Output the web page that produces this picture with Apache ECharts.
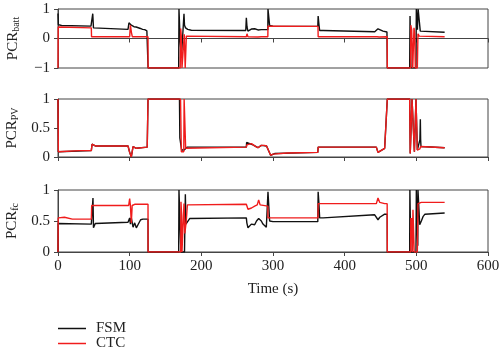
<!DOCTYPE html>
<html>
<head>
<meta charset="utf-8">
<script src="https://cdn.jsdelivr.net/npm/echarts@6/dist/echarts.min.js"></script>
<style>
  html, body { margin: 0; padding: 0; background: #fff; }
  #main { width: 500px; height: 354px; }
</style>
</head>
<body>
<div id="main"></div>
<script>
// [time (s), PCR] pairs
var battFSM = [[0,0.85],[0.5,0.47],[5,0.44],[46,0.42],[47.5,0.42],[48.5,0.84],[49.5,0.36],[51,0.33],[97.7,0.31],[99,0.53],[101,0.48],[102.3,0.45],[104,0.5],[106,0.4],[109,0.39],[111.6,0.38],[115,0.34],[118,0.31],[121,0.3],[124,0.26],[125.6,0.26],[125.7,-1],[168.4,-1],[168.8,1],[169.8,1],[170.5,-0.1],[172,-0.55],[173,-0.32],[174,0.1],[175.8,0.84],[176.5,0.45],[178,0.36],[181,0.31],[186,0.28],[262,0.27],[262.8,0.7],[263.7,0.4],[265,0.25],[267.4,0.3],[269.8,0.32],[272,0.28],[274.4,0.33],[277,0.3],[279,0.29],[281.4,0.33],[283.7,0.3],[292.8,0.3],[293,1],[294,1],[295.3,0.44],[300,0.42],[362.5,0.41],[363,0.76],[364,0.5],[365.1,0.27],[370,0.27],[442,0.23],[444,0.26],[446.5,0.33],[449,0.3],[453.5,0.25],[459,0.22],[459.5,-1],[490.7,-1],[491.2,0.76],[492,0.7],[492.5,-1],[499.5,-1],[500,1],[501,1],[501.5,0.3],[502.5,1],[504.5,1],[505.5,0.25],[508,0.22],[539.5,0.21]];
var battCTC = [[0,-1],[0.3,0.39],[3,0.37],[46.5,0.36],[46.8,0.06],[100,0.06],[101,0.45],[102.5,0.2],[103.7,0.06],[125.6,0.06],[125.7,-1],[170.5,-1],[171.2,0.34],[172,0.1],[173,-1],[175.5,-1],[176.2,0.14],[177.5,-1],[178.5,-1],[179.1,0.08],[180.5,0.06],[262.8,0.06],[263.7,0.16],[265,0.06],[279,0.05],[281.4,0.02],[283.7,0.06],[292.8,0.06],[293,0.42],[362.8,0.41],[363,0.06],[445,0.06],[446.5,0.1],[448,0.05],[459.3,0.06],[459.5,-1],[492,-1],[492.3,0.45],[493.5,0.3],[495,-1],[496.5,-1],[496.7,0.36],[497.7,0.2],[498.6,-1],[501.4,-1],[502.3,0.16],[504,0.08],[505,0.06],[539.5,0.06]];

var pvFSM = [[0,1],[0.5,0.09],[46.5,0.11],[47.5,0.22],[52,0.19],[97.7,0.19],[100,0.08],[102.3,0],[103.5,0],[104.7,0.18],[109.3,0.15],[124.5,0.17],[125.6,1],[169.5,1],[170,0.33],[171.5,0.3],[172.5,0.12],[176,0.12],[178,0.15],[180,0.17],[262.8,0.17],[263.2,0.25],[265.1,0.24],[272,0.21],[279,0.16],[283.7,0.2],[291,0.19],[293,0.17],[296.7,0.03],[302.3,0.06],[362.5,0.08],[363,0.17],[444.2,0.17],[446.5,0.08],[455.8,0.15],[458.5,0.16],[459.5,1],[490.7,1],[491.5,0.06],[493.5,0.06],[494,1],[496.5,1],[497.3,0.09],[499.5,1],[500.5,1],[501.4,0.12],[505,0.3],[505.6,0.65],[506,0.3],[506.5,0.18],[508,0.16],[539.5,0.16]];
var pvCTC = [[0,1],[0.5,0.09],[3,0.1],[30,0.11],[46.5,0.11],[47.5,0.22],[49,0.2],[52,0.19],[97.7,0.19],[100,0.08],[102.3,0],[103.5,0],[104.7,0.18],[107,0.19],[109.3,0.15],[112,0.16],[124.5,0.17],[125.6,1],[171,1],[172.1,0.09],[173,0.1],[175.5,0.09],[176,1],[177.5,1],[178.1,0.15],[180,0.17],[262.8,0.17],[263.5,0.21],[265.1,0.24],[270,0.23],[272,0.21],[276,0.18],[279,0.16],[283.7,0.2],[288,0.2],[291,0.19],[293,0.17],[296.7,0.03],[300,0.05],[302.3,0.06],[320,0.07],[362.5,0.08],[363,0.17],[365,0.17],[444.2,0.17],[446.5,0.08],[449,0.09],[455.8,0.15],[458.5,0.16],[459.5,1],[490.7,1],[491.5,0.06],[493.5,0.06],[494,1],[496.5,1],[497.3,0.09],[498.5,0.1],[499.5,1],[500.5,1],[501.4,0.12],[505,0.14],[506,0.18],[508,0.16],[539.5,0.16]];

var fcFSM = [[0,0],[0.3,0.46],[3,0.44],[46.5,0.45],[48,0.46],[48.8,0.87],[49.5,0.39],[50.5,0.4],[52,0.46],[97.7,0.48],[99,0.48],[100,0.55],[101,0.45],[102.3,0.55],[104.7,0.4],[107,0.47],[109.3,0.39],[111.6,0.44],[115.3,0.52],[118.6,0.53],[125.6,0.53],[125.7,0],[168.4,0],[168.8,1],[171,1],[171.5,0],[176.5,0],[177.7,0.93],[178.5,0.45],[180.5,0.42],[183.7,0.54],[186,0.55],[262.8,0.55],[263.5,0.47],[265.1,0.39],[267.4,0.4],[269.8,0.45],[272,0.42],[274.4,0.44],[277,0.5],[280,0.54],[283.7,0.5],[286,0.45],[290.7,0.4],[292.6,0.42],[293,0.97],[293.8,0.95],[295.3,0.5],[300,0.49],[362.5,0.49],[363,0.97],[364,0.8],[365.1,0.55],[370,0.55],[441.9,0.6],[444.2,0.58],[446.5,0.52],[449,0.56],[455.8,0.61],[459.3,0.61],[459.5,0],[490.7,0],[491,1],[492,1],[492.3,0],[499.5,0],[500,1],[501.4,1],[502,0.1],[502.3,1],[504,1],[504.7,0.44],[507,0.5],[509.3,0.57],[512,0.61],[539.5,0.63]];
var fcCTC = [[0,0],[0.3,0.55],[9,0.56],[20,0.53],[46.5,0.53],[47,0.75],[98.6,0.75],[100,0.86],[101,0.75],[102.3,0.47],[103.5,0.75],[104.7,0.76],[107,0.77],[125.6,0.77],[125.7,0],[171.2,0],[171.6,0.81],[172.5,0.6],[173,0],[175.3,0],[175.8,0.78],[177,0.3],[178.1,0.3],[179,0.5],[180.5,0.76],[182,0.77],[262.8,0.77],[265.1,0.69],[270,0.71],[274.4,0.74],[278,0.76],[280,0.84],[282,0.76],[283.7,0.75],[292.8,0.74],[293,0.55],[362.8,0.55],[363,0.78],[444.2,0.78],[446.5,0.87],[449,0.8],[455.8,0.78],[459.3,0.78],[459.5,0],[492,0],[492.3,0.55],[493,0.3],[493.5,0.55],[494.5,0],[495.3,0.68],[497,0],[501.4,0],[502.3,0.78],[503.5,0.78],[505,0.8],[507,0.8],[539.5,0.8]];

var seriesNames = ['FSM', 'CTC'];
var seriesColors = ['#111111', '#f01c1c'];
var panelNames = [
    '{m|PCR}{s|batt}',
    '{m|PCR}{s|PV}',
    '{m|PCR}{s|fc}'
];

var FONT = "'Liberation Serif', 'DejaVu Serif', serif";
var AXIS_COLOR = '#444';

var myChart = echarts.init(document.getElementById('main'));

var grids = [
    { left: 58, width: 430, top: 9, height: 59 },
    { left: 58, width: 430, top: 99, height: 58 },
    { left: 58, width: 430, top: 190, height: 62 }
];
grids.forEach(function (g) {
    g.show = true;
    g.borderColor = AXIS_COLOR;
    g.borderWidth = 1;
    g.backgroundColor = 'transparent';
    g.containLabel = false;
    g.outerBoundsMode = 'none';
});

function xAxisFor(i) {
    var last = i === 2;
    return {
        type: 'value',
        gridIndex: i,
        min: 0,
        max: 600,
        interval: 100,
        name: last ? 'Time (s)' : '',
        nameLocation: 'middle',
        nameGap: 30,
        nameTextStyle: { fontFamily: FONT, fontSize: 15, color: '#222' },
        axisLine: { show: true, lineStyle: { color: AXIS_COLOR, width: 1 } },
        axisTick: { show: true, length: 4, lineStyle: { color: AXIS_COLOR } },
        axisLabel: { show: last, margin: 7, fontFamily: FONT, fontSize: 15, color: '#222' },
        splitLine: { show: false }
    };
}

function yAxisFor(i, min, max, interval) {
    return {
        type: 'value',
        gridIndex: i,
        min: min,
        max: max,
        interval: interval,
        name: panelNames[i],
        nameLocation: 'middle',
        nameGap: 36,
        nameRotate: 90,
        nameTextStyle: {
            fontFamily: FONT,
            color: '#222',
            rich: {
                m: { fontFamily: FONT, fontSize: 15, color: '#222', lineHeight: 18 },
                s: { fontFamily: FONT, fontSize: 10, color: '#222', lineHeight: 18, padding: [7, 0, 0, 0] }
            }
        },
        axisLine: { show: true, lineStyle: { color: AXIS_COLOR, width: 1 } },
        axisTick: { show: true, length: 4, lineStyle: { color: AXIS_COLOR } },
        axisLabel: {
            margin: 8,
            fontFamily: FONT,
            fontSize: 15,
            color: '#222',
            formatter: function (v) { return String(v).replace('-', '\u2212'); }
        },
        splitLine: { show: false }
    };
}

function lineSeries(name, axisIndex, data) {
    var c = seriesColors[seriesNames.indexOf(name)];
    return {
        name: name,
        type: 'line',
        xAxisIndex: axisIndex,
        yAxisIndex: axisIndex,
        data: data,
        symbol: 'none',
        showSymbol: false,
        animation: false,
        clip: true,
        lineStyle: { color: c, width: 1.4 },
        itemStyle: { color: c }
    };
}

// one legend block per entry so they stack like the original
function legendFor(name, top) {
    return {
        data: [name],
        left: 58,
        top: top,
        icon: 'rect',
        itemWidth: 28,
        itemHeight: 1.5,
        padding: 0,
        textStyle: { fontFamily: FONT, fontSize: 15, color: '#222', padding: [0, 0, 0, 5] }
    };
}

var option = {
    backgroundColor: '#fff',
    animation: false,
    legend: [legendFor('FSM', 321), legendFor('CTC', 336)],
    grid: grids,
    xAxis: [xAxisFor(0), xAxisFor(1), xAxisFor(2)],
    yAxis: [
        yAxisFor(0, -1, 1, 1),
        yAxisFor(1, 0, 1, 0.5),
        yAxisFor(2, 0, 1, 0.5)
    ],
    series: [
        lineSeries('FSM', 0, battFSM),
        lineSeries('CTC', 0, battCTC),
        lineSeries('FSM', 1, pvFSM),
        lineSeries('CTC', 1, pvCTC),
        lineSeries('FSM', 2, fcFSM),
        lineSeries('CTC', 2, fcCTC)
    ]
};
myChart.setOption(option);
</script>
</body>
</html>
